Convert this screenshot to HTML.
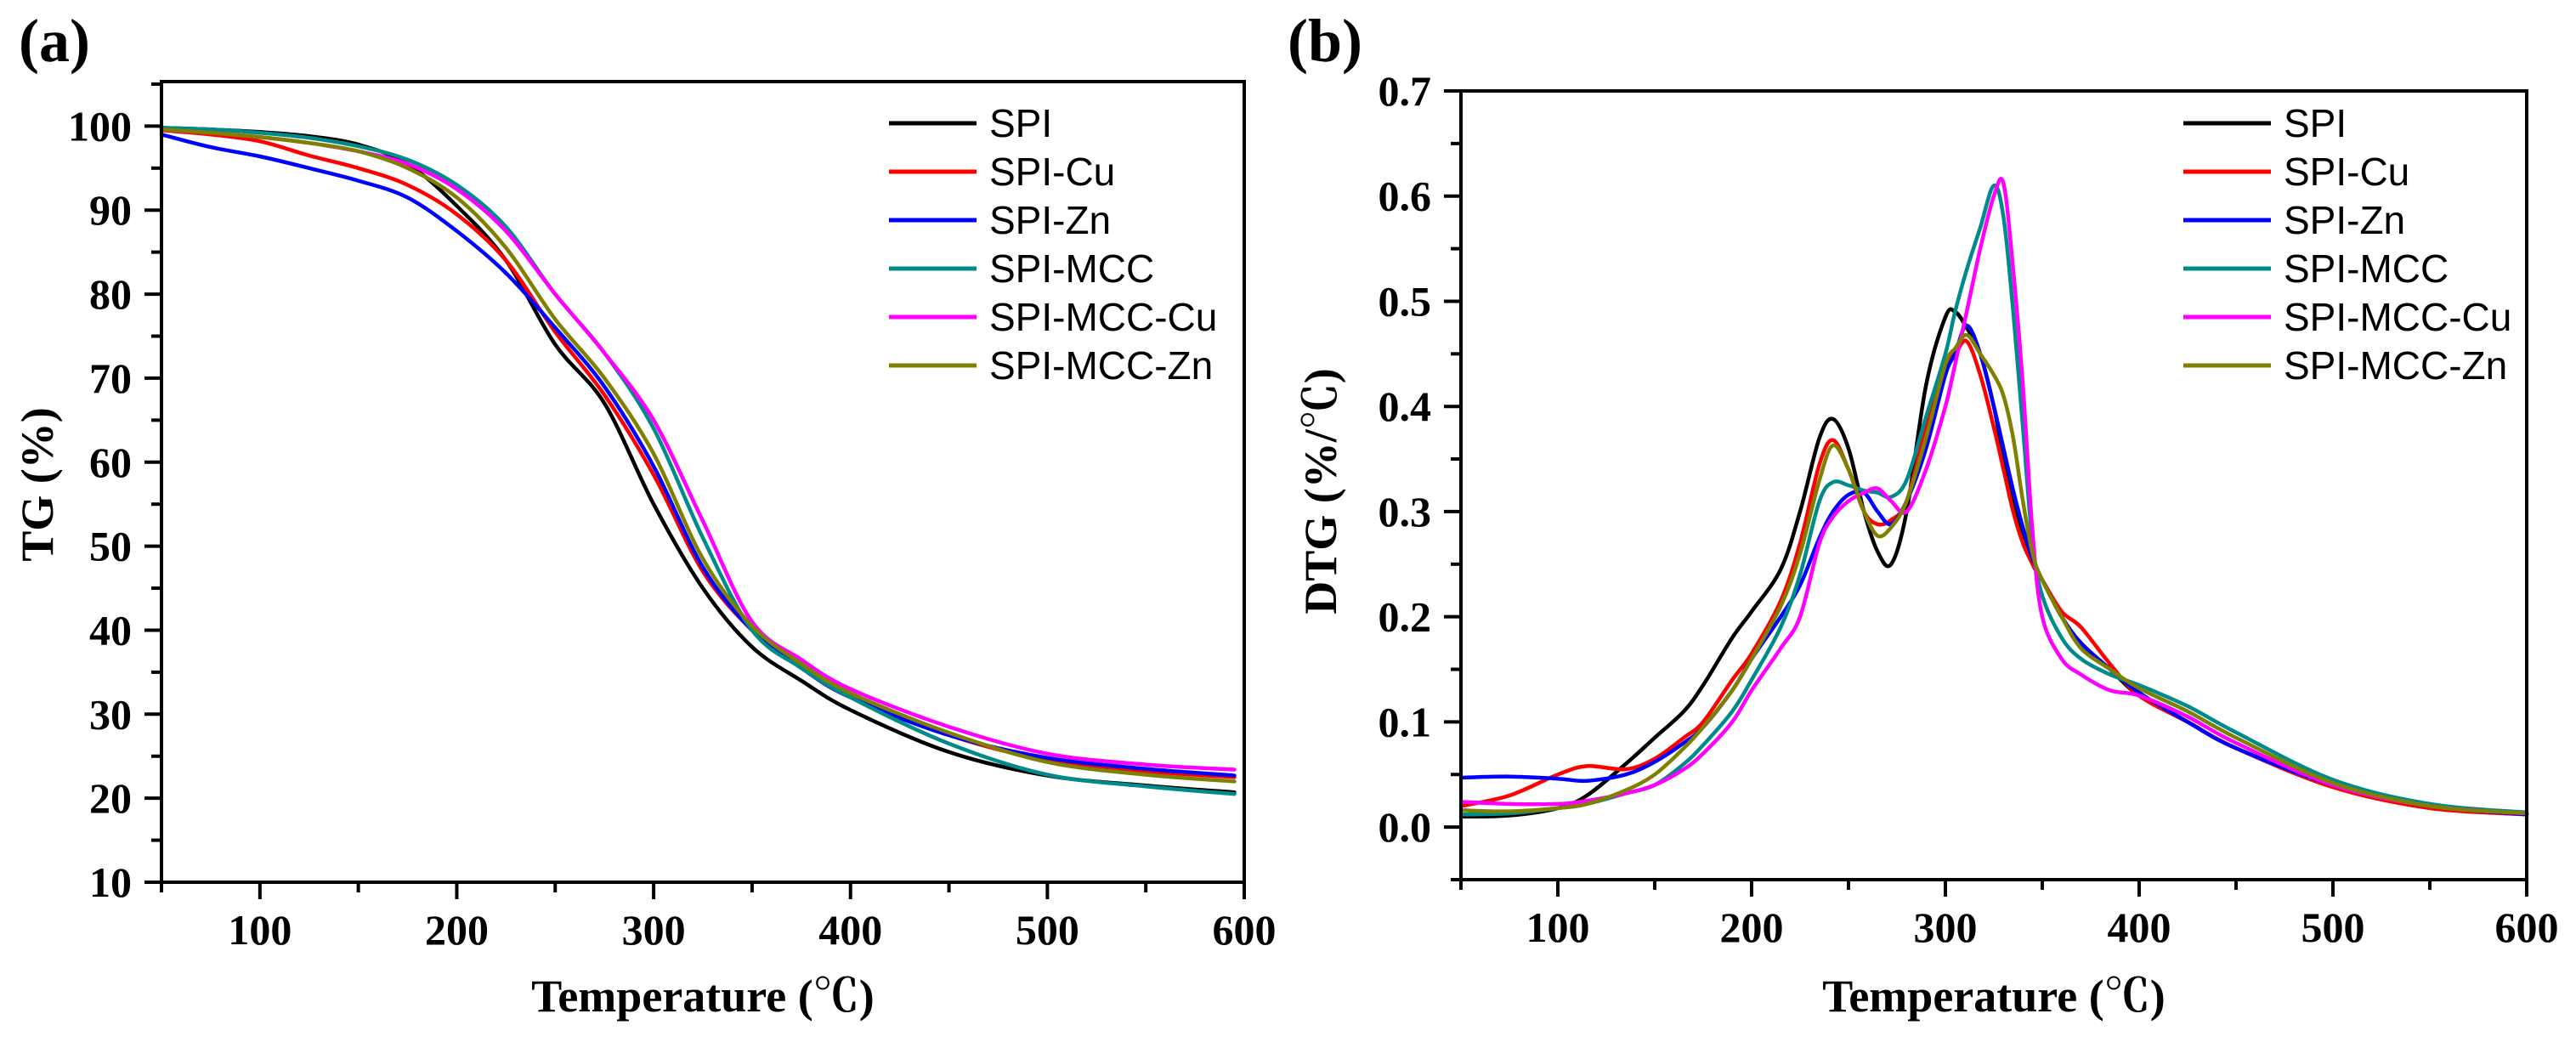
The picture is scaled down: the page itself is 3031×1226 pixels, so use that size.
<!DOCTYPE html>
<html><head><meta charset="utf-8"><style>
html,body{margin:0;padding:0;background:#fff;}
svg{display:block;}
</style></head><body>
<svg id="fig" width="3031" height="1226" viewBox="0 0 3031 1226" xmlns="http://www.w3.org/2000/svg">
<rect width="3031" height="1226" fill="#fff"/>
<g id="pa"></g>
<g id="pb"></g>
</svg>
<script>
const seriesNames = ["SPI","SPI-Cu","SPI-Zn","SPI-MCC","SPI-MCC-Cu","SPI-MCC-Zn"];
const seriesColors = ["#000000","#ff0000","#0000ff","#008b8b","#ff00ff","#808000"];

// Panel (a) TG
const tgTemps = [50,75,100,125,150,175,200,225,250,275,300,325,350,375,400,450,500,550,595];
const tgSPI   = [99.8,99.6,99.3,98.8,97.8,95.5,90.5,84,74,67,55,45,38,34,30.5,25.5,22.7,21.5,20.7];
const tgCu    = [99.5,99,98.2,96.5,95,93,89.5,84,75.5,68,58.5,47,40,35.5,32,27.5,24.5,23.2,22.5];
const tgZn    = [99,97.5,96.4,95,93.5,91.5,87.5,82.5,76,69,59.5,47.5,40,35.5,32,27.5,24.8,23.5,22.7];
const tgMCC   = [99.8,99.6,99.2,98.6,97.6,96,93,88,80,73,64,51,40,35.5,32,26.5,22.8,21.4,20.5];
const tgMCCCu = [99.6,99.2,98.7,98,97,95.5,92.5,87.5,80,73,65,53,41,36.5,33,28.5,25.3,24,23.4];
const tgMCCZn = [99.6,99.2,98.7,98,97,95,91.5,85.5,77,70,61,48.5,40.5,36,32.5,27.8,24.3,22.8,22];
const tgYTicks = [10,20,30,40,50,60,70,80,90,100];
const xTicks = [100,200,300,400,500,600];

// Panel (b) DTG
const dtgTemps = [50,75,100,115,135,150,165,175,190,200,215,225,235,242,250,258,265,272,280,290,300,305,311,318,325,330,335,340,345,350,360,370,385,400,425,450,500,550,600];
const dtgSPI   = [.010,.011,.018,.03,.06,.085,.11,.135,.18,.205,.245,.30,.37,.388,.36,.30,.262,.25,.30,.42,.485,.49,.475,.45,.40,.35,.31,.28,.25,.235,.20,.175,.15,.125,.10,.075,.04,.02,.012];
const dtgCu    = [.020,.030,.050,.058,.055,.065,.085,.10,.14,.165,.215,.27,.345,.368,.34,.30,.288,.292,.31,.38,.44,.45,.462,.43,.38,.34,.30,.27,.25,.235,.205,.19,.155,.125,.10,.075,.038,.018,.012];
const dtgZn    = [.047,.048,.046,.044,.050,.062,.08,.095,.13,.16,.20,.23,.275,.30,.316,.318,.30,.288,.31,.36,.43,.45,.477,.45,.40,.36,.32,.285,.255,.235,.20,.175,.15,.128,.10,.075,.04,.02,.012];
const dtgMCC   = [.012,.013,.018,.022,.032,.040,.060,.078,.11,.14,.19,.24,.31,.328,.325,.32,.318,.314,.33,.39,.45,.49,.53,.57,.61,.58,.49,.38,.27,.22,.18,.16,.145,.135,.115,.09,.045,.022,.014];
const dtgMCCCu = [.024,.022,.022,.025,.032,.040,.055,.07,.10,.13,.17,.20,.27,.295,.31,.318,.322,.31,.30,.34,.40,.44,.49,.55,.60,.612,.53,.42,.28,.20,.16,.145,.13,.125,.105,.08,.04,.02,.013];
const dtgMCCZn = [.016,.015,.018,.022,.035,.050,.075,.095,.13,.16,.21,.26,.33,.363,.34,.30,.277,.285,.31,.37,.44,.455,.468,.45,.43,.41,.37,.31,.26,.235,.20,.17,.15,.132,.11,.085,.042,.02,.013];
const dtgYTicks = [0.0,0.1,0.2,0.3,0.4,0.5,0.6,0.7];

const NS = "http://www.w3.org/2000/svg";
function mk(parent, tag, attrs, text){
  const e = document.createElementNS(NS, tag);
  for (const k in attrs) e.setAttribute(k, attrs[k]);
  if (text !== undefined) e.textContent = text;
  parent.appendChild(e);
  return e;
}
function smoothPath(pts){
  let d = "M" + pts[0][0].toFixed(1) + "," + pts[0][1].toFixed(1);
  for (let i = 0; i < pts.length - 1; i++){
    const p0 = pts[Math.max(0,i-1)], p1 = pts[i], p2 = pts[i+1], p3 = pts[Math.min(pts.length-1,i+2)];
    const c1x = p1[0] + (p2[0]-p0[0])/6, c1y = p1[1] + (p2[1]-p0[1])/6;
    const c2x = p2[0] - (p3[0]-p1[0])/6, c2y = p2[1] - (p3[1]-p1[1])/6;
    d += " C" + c1x.toFixed(1) + "," + c1y.toFixed(1) + " " + c2x.toFixed(1) + "," + c2y.toFixed(1) + " " + p2[0].toFixed(1) + "," + p2[1].toFixed(1);
  }
  return d;
}

function drawPanel(g, cfg){
  const L = cfg.left, R = cfg.right, T = cfg.top, B = cfg.bottom;
  const xs = v => L + (v - 50) / 550 * (R - L);
  const ys = v => B - (v - cfg.ymin) / (cfg.ymax - cfg.ymin) * (B - T);
  // series
  cfg.series.forEach((vals, si) => {
    const pts = cfg.temps.map((t, i) => [xs(t), ys(vals[i])]);
    const p = mk(g, "path", {d: smoothPath(pts), fill: "none", stroke: seriesColors[si], "stroke-width": 4.5, "stroke-linejoin": "round", "stroke-linecap": "round"});
    
    
  });
  // frame
  const fr = mk(g, "rect", {x: L, y: T, width: R - L, height: B - T, fill: "none", stroke: "#000", "stroke-width": 4});
  
  
  // x ticks
  for (let v = 50; v <= 600; v += 50){
    const major = v % 100 === 0;
    const t = mk(g, "line", {x1: xs(v), x2: xs(v), y1: B, y2: B + (major ? 20 : 12), stroke: "#000", "stroke-width": 4});
    
    
  }
  xTicks.forEach(v => {
    const tl = mk(g, "text", {x: xs(v), y: B + 73, "text-anchor": "middle", "font-family": "Liberation Serif, serif", "font-weight": "bold", "font-size": 50}, String(v));
    
    
  });
  // y ticks
  const step = cfg.minorStep;
  for (let v = cfg.ymin; v <= cfg.ymax + 1e-9; v += step){
    const vv = Math.round(v / step) * step;
    const major = cfg.yTicks.some(t => Math.abs(t - vv) < 1e-6);
    const t = mk(g, "line", {x1: L - (major ? 20 : 12), x2: L, y1: ys(vv), y2: ys(vv), stroke: "#000", "stroke-width": 4});
    
    
  }
  cfg.yTicks.forEach(v => {
    const tl = mk(g, "text", {x: L - 35, y: ys(v) + 17, "text-anchor": "end", "font-family": "Liberation Serif, serif", "font-weight": "bold", "font-size": 50}, cfg.fmt(v));
    
    
  });
  // axis titles
  const xt = mk(g, "text", {x: (L + R) / 2, y: 1190, "text-anchor": "middle", "font-family": "Liberation Serif, 'Noto Serif CJK SC', serif", "font-weight": "bold", "font-size": 54}, "Temperature (℃)");
  
  
  const yt = mk(g, "text", {x: 0, y: 0, transform: "translate(" + cfg.ytx + "," + cfg.yty + ") rotate(-90)", "text-anchor": "middle", "font-family": "Liberation Serif, 'Noto Serif CJK SC', serif", "font-weight": "bold", "font-size": 54}, cfg.ytitle);
  
  
  // panel label
  const pl = mk(g, "text", {x: cfg.plx, y: 72, "font-family": "Liberation Serif, serif", "font-weight": "bold", "font-size": 72}, cfg.plabel);
  
  
  // legend
  const lg = mk(g, "g", {});
  
  
  seriesNames.forEach((n, i) => {
    const y = cfg.legY + i * 57;
    const ln = mk(lg, "line", {x1: cfg.legX, x2: cfg.legX + 103, y1: y, y2: y, stroke: seriesColors[i], "stroke-width": 5});
    
    
    const tx = mk(lg, "text", {x: cfg.legX + 118, y: y + 16, "font-family": "Liberation Sans, sans-serif", "font-size": 46}, n);
    
    
  });
}

drawPanel(document.getElementById("pa"), {
  left: 190, right: 1464, top: 96, bottom: 1038, ymin: 10, ymax: 105.3,
  temps: tgTemps, series: [tgSPI, tgCu, tgZn, tgMCC, tgMCCCu, tgMCCZn],
  yTicks: tgYTicks, minorStep: 5, fmt: v => String(v),
  ytitle: "TG (%)", ytx: 62, yty: 570, plabel: "(a)", plx: 22,
  legX: 1046, legY: 145
});
drawPanel(document.getElementById("pb"), {
  left: 1719, right: 2973, top: 107, bottom: 1035, ymin: -0.05, ymax: 0.7,
  temps: dtgTemps, series: [dtgSPI, dtgCu, dtgZn, dtgMCC, dtgMCCCu, dtgMCCZn],
  yTicks: dtgYTicks, minorStep: 0.05, fmt: v => v.toFixed(1),
  ytitle: "DTG (%/℃)", ytx: 1572, yty: 578, plabel: "(b)", plx: 1515,
  legX: 2569, legY: 145
});
</script>
</body></html>
